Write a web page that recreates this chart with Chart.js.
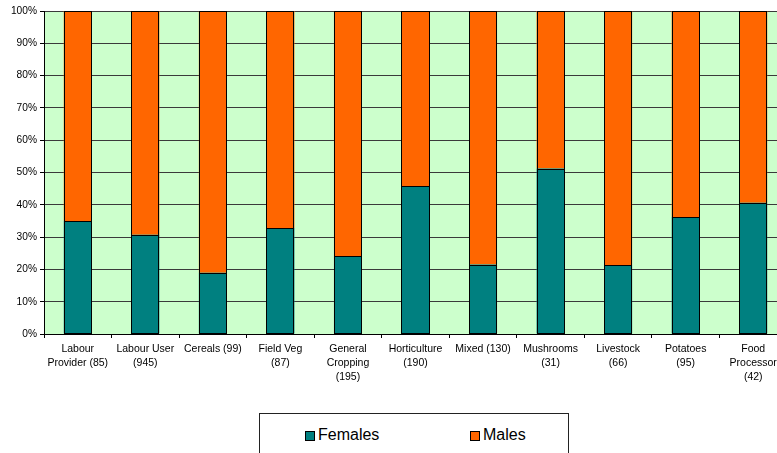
<!DOCTYPE html>
<html>
<head>
<meta charset="utf-8">
<script src="https://cdn.jsdelivr.net/npm/chart.js@4.4.1/dist/chart.umd.min.js"></script>
<style>
  html, body { margin: 0; padding: 0; background: #fff; overflow: hidden; width: 777px; height: 453px; }
  #wrap { position: relative; width: 777px; height: 453px; overflow: hidden; }
  #c { position: absolute; left: 0; top: 0; }
  #legend {
    position: absolute; left: 259px; top: 413px; width: 310px; height: 50px;
    border: 1px solid #222; background: #fff; box-sizing: border-box;
    font-family: "Liberation Sans", Arial, sans-serif; font-size: 16px; color: #000;
  }
  .item { position: absolute; top: 11px; line-height: 20px; white-space: nowrap; }
  .sw { position: absolute; top: 6px; width: 8px; height: 8px; border: 1px solid #000; }
  .item span.t { position: absolute; left: 13px; top: 0; }
</style>
</head>
<body>
<div id="wrap">
  <canvas id="c" width="787" height="453"></canvas>
  <div id="legend"></div>
</div>
<script>
// Sectors (number of respondents in brackets), one label line per array entry
const categories = [
  ["Labour", "Provider (85)"],
  ["Labour User", "(945)"],
  ["Cereals (99)"],
  ["Field Veg", "(87)"],
  ["General", "Cropping", "(195)"],
  ["Horticulture", "(190)"],
  ["Mixed (130)"],
  ["Mushrooms", "(31)"],
  ["Livestock", "(66)"],
  ["Potatoes", "(95)"],
  ["Food", "Processor", "(42)"]
];

// Share of workers by sex, percent
const females = [35.0, 30.7, 19.0, 32.8, 24.0, 45.7, 21.5, 51.2, 21.4, 36.2, 40.6];
const males   = [65.0, 69.3, 81.0, 67.2, 76.0, 54.3, 78.5, 48.8, 78.6, 63.8, 59.4];

const yTicks = [0, 10, 20, 30, 40, 50, 60, 70, 80, 90, 100];

const seriesNames = ["Females", "Males"];
const seriesColors = ["#008080", "#FF6600"];

const FONT = "'Liberation Sans', Arial, sans-serif";

// Pale green plot background
const plotBg = {
  id: "plotBg",
  beforeDraw(chart) {
    const a = chart.chartArea, ctx = chart.ctx;
    ctx.save();
    ctx.fillStyle = "#CCFFCC";
    ctx.fillRect(a.left, a.top, a.right - a.left, a.bottom - a.top);
    ctx.restore();
  }
};

// Crisp 1px black outline around every bar segment; stacked segments share
// a single line where they meet
const barOutline = {
  id: "barOutline",
  afterDatasetsDraw(chart) {
    const ctx = chart.ctx;
    ctx.save();
    ctx.strokeStyle = "#000";
    ctx.lineWidth = 1;
    chart.data.datasets.forEach((ds, i) => {
      chart.getDatasetMeta(i).data.forEach(bar => {
        const p = bar.getProps(["x", "y", "base", "width"], true);
        const l = Math.round(p.x - p.width / 2) + 0.5;
        const r = Math.round(p.x + p.width / 2) - 0.5;
        const t = Math.round(Math.min(p.y, p.base)) + 0.5;
        const b = Math.round(Math.max(p.y, p.base)) + (i === 0 ? -0.5 : 0.5);
        ctx.strokeRect(l, t, r - l, b - t);
      });
    });
    ctx.restore();
  }
};

new Chart(document.getElementById("c"), {
  type: "bar",
  data: {
    labels: categories,
    datasets: [
      { label: seriesNames[0], data: females, backgroundColor: seriesColors[0] },
      { label: seriesNames[1], data: males, backgroundColor: seriesColors[1] }
    ]
  },
  options: {
    responsive: false,
    animation: false,
    devicePixelRatio: 1,
    layout: { padding: { left: 0, top: 11, right: 0, bottom: 0 } },
    datasets: {
      bar: {
        borderWidth: 0,
        barPercentage: 0.415,
        categoryPercentage: 1.0
      }
    },
    plugins: {
      legend: { display: false },
      tooltip: { enabled: false }
    },
    scales: {
      x: {
        stacked: true,
        afterFit(s) { s.height = 119; },
        border: { display: true, color: "#000", width: 1 },
        grid: {
          offset: true,
          drawOnChartArea: false,
          drawTicks: true,
          tickLength: 4,
          color: "#000"
        },
        ticks: {
          color: "#000",
          font: { family: FONT, size: 10.5, lineHeight: 1.333 },
          padding: 4,
          maxRotation: 0,
          autoSkip: false
        }
      },
      y: {
        stacked: true,
        min: 0,
        max: 100,
        afterFit(s) { s.width = 44; },
        afterBuildTicks(s) { s.ticks = yTicks.map(v => ({ value: v })); },
        border: { display: true, color: "#000", width: 1 },
        grid: {
          color: "#3a3a3a",
          lineWidth: 1,
          drawTicks: true,
          tickLength: 4,
          tickColor: "#000"
        },
        ticks: {
          color: "#000",
          font: { family: FONT, size: 10.2 },
          padding: 3,
          callback: v => v + "%"
        }
      }
    }
  },
  plugins: [plotBg, barOutline]
});

// Legend box below the chart
const legend = document.getElementById("legend");
const itemX = [45, 210];
seriesNames.forEach((name, i) => {
  const it = document.createElement("div");
  it.className = "item";
  it.style.left = itemX[i] + "px";
  const sw = document.createElement("span");
  sw.className = "sw";
  sw.style.background = seriesColors[i];
  const t = document.createElement("span");
  t.className = "t";
  t.textContent = name;
  it.appendChild(sw);
  it.appendChild(t);
  legend.appendChild(it);
});
</script>
</body>
</html>
